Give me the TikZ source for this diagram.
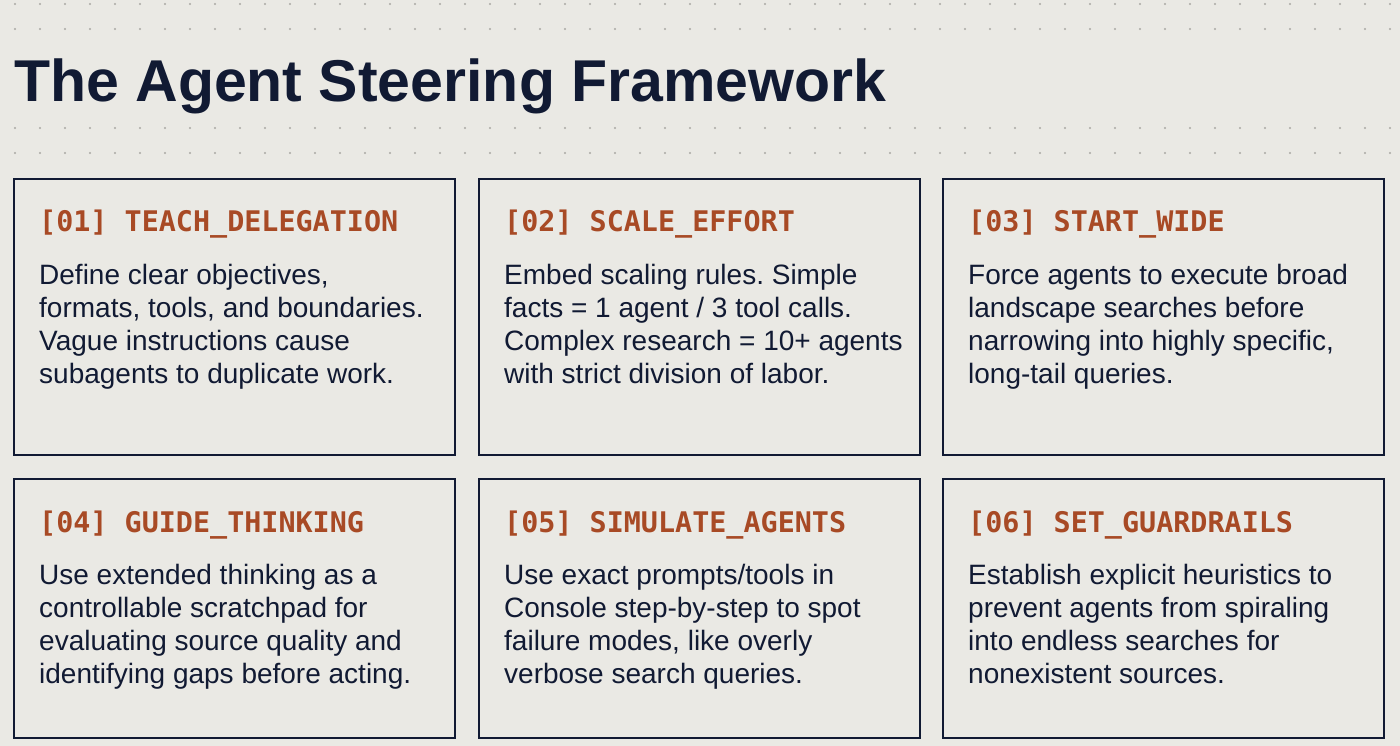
\documentclass[tikz,border=0pt]{standalone}
\usepackage{fontspec}
\setmainfont{Liberation Sans}
\newfontfamily\monof{DejaVu Sans Mono}
\frenchspacing
\definecolor{bgc}{HTML}{EAE9E4}
\definecolor{navy}{HTML}{111A33}
\definecolor{rust}{HTML}{A84A25}
\definecolor{dotc}{HTML}{A9A8A3}
\tikzset{
  card/.style={draw=navy,line width=1.8pt,fill=bgc},
  head/.style={anchor=base west,inner sep=0,text=rust,font=\monof\bfseries\fontsize{28.4}{30}\selectfont},
  body/.style={anchor=north west,inner sep=0,text=navy,align=left,font=\fontsize{28}{33}\selectfont},
}
\begin{document}
\begin{tikzpicture}[x=1pt,y=-1pt]
\fill[bgc] (0,0) rectangle (1400,746);
\useasboundingbox (0,0) rectangle (1400,746);
\foreach \yy in {4,29,128,153}{\foreach \xx in {15,40,...,1400}{\fill[dotc] (\xx,\yy) circle (1.2);}}
\node[anchor=base west,inner sep=0,text=navy,font=\bfseries\fontsize{59}{60}\selectfont] (title) at (14,102) {The Agent Steering Framework};
\foreach \n/\x/\y/\h/\t in {
 a/14/179/{[01] TEACH\_DELEGATION}/{Define clear objectives,\\formats, tools, and boundaries.\\Vague instructions cause\\subagents to duplicate work.},
 b/479/179/{[02] SCALE\_EFFORT}/{Embed scaling rules. Simple\\facts = 1 agent / 3 tool calls.\\Complex research = 10+ agents\\with strict division of labor.},
 c/943/179/{[03] START\_WIDE}/{Force agents to execute broad\\landscape searches before\\narrowing into highly specific,\\long-tail queries.},
 d/14/479/{[04] GUIDE\_THINKING}/{Use extended thinking as a\\controllable scratchpad for\\evaluating source quality and\\identifying gaps before acting.},
 e/479/479/{[05] SIMULATE\_AGENTS}/{Use exact prompts/tools in\\Console step-by-step to spot\\failure modes, like overly\\verbose search queries.},
 f/943/479/{[06] SET\_GUARDRAILS}/{Establish explicit heuristics to\\prevent agents from spiraling\\into endless searches for\\nonexistent sources.}}{
  \draw[card] (\x,\y) rectangle ++(441,{\y==179 ? 276 : 259});
  \node[head] (h\n) at (\x+25,\y+53) {\h};
  \node[body] (b\n) at (\x+25,\y+85) {\t};
}
\end{tikzpicture}
\end{document}
